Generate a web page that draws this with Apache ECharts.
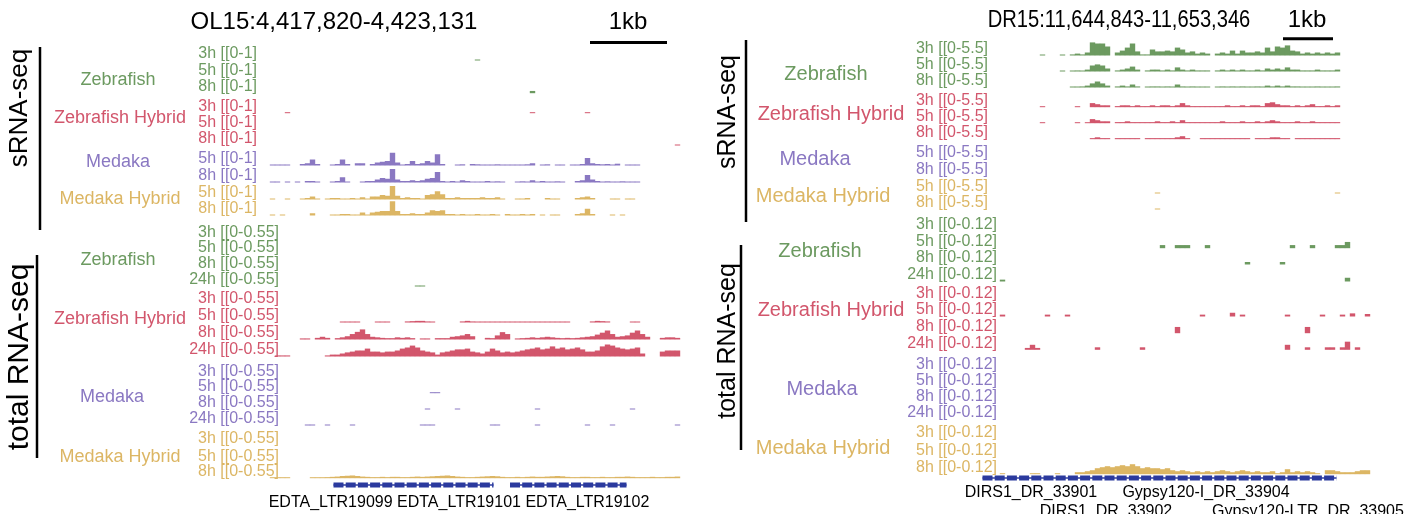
<!DOCTYPE html>
<html>
<head>
<meta charset="utf-8">
<script src="https://cdn.jsdelivr.net/npm/echarts@6/dist/echarts.min.js"></script>
<style>
  html, body { margin: 0; padding: 0; background: #fff; }
  #chart { width: 1419px; height: 514px; }
</style>
</head>
<body>
<div id="chart"></div>
<script>
// ---- titles / labels ----
const leftTitle = 'OL15:4,417,820-4,423,131';
const rightTitle = 'DR15:11,644,843-11,653,346';
const scaleLabel = '1kb';
const species = ['Zebrafish', 'Zebrafish Hybrid', 'Medaka', 'Medaka Hybrid'];
const timesSmall = [['3h', '5h', '8h'], ['3h', '5h', '8h'], ['5h', '8h'], ['5h', '8h']];
const timesTotal = [['3h', '5h', '8h', '24h'], ['3h', '5h', '8h', '24h'], ['3h', '5h', '8h', '24h'], ['3h', '5h', '8h']];
const leftRanges = ['[[0-1]', '[[0-0.55]'];
const rightRanges = ['[[0-5.5]', '[[0-0.12]'];
const leftMax = [1, 0.55];
const rightMax = [5.5, 0.12];
const leftGeneNames = ['EDTA_LTR19099 EDTA_LTR19101 EDTA_LTR19102'];
const rightGeneNames = ['DIRS1_DR_33901', 'Gypsy120-I_DR_33904', 'DIRS1_DR_33902', 'Gypsy120-LTR_DR_33905'];

// ---- left locus, 82 bins; dense arrays start at bin 0, sparse ones are [bin, value] ----
const L_s_zf3 = [[41, 0.06]];
const L_s_zf5 = [];
const L_s_zf8 = [[52, 0.15]];
const L_s_zh3 = [[3, 0.05], [52, 0.05], [63, 0.05]];
const L_s_zh5 = [];
const L_s_zh8 = [[81, 0.05]];
const L_s_md5 = [.05,.05,.05,.05,0,0,.1,.15,.4,.1, 0,0,.05,.1,.4,.1,0,.15,.15,0, .1,.2,.25,.3,.85,.2,.05,.1,.3,.1,
  .15,.3,.2,.75,.1,0,0,.05,.08,0, .1,.08,.05,.05,.05,.08,.05,.05,.05,.05, .05,.08,.15,0,.05,.08,0,.05,.05,0,
  .05,.05,.1,.5,.15,.1,.08,.1,.05,.12, 0,.05,.05,.05];
const L_s_md8 = [.05,.05,0,.05,0,.05,0,.1,.1,.05, 0,0,.05,.1,.35,.05,0,0,.05,.1, .1,.2,.3,.25,.9,.2,.1,.1,.15,.1,
  .15,.25,.3,.7,.1,.05,.1,.05,.15,.1, .05,.05,.05,.1,.05,.08,.05,0,0,.05, .08,.05,.15,.05,.1,.05,.05,.08,.05,0,
  0,.1,.15,.5,.2,.1,.05,.08,.05,.05, .08,.05,.05,.05];
const L_s_mh5 = [.05,0,0,.05,0,0,.05,.1,.2,.05, 0,.05,.1,.1,.05,.05,.1,.05,.15,.05, .2,.2,.3,.25,.9,.25,.1,.15,.1,.1,
  .05,.3,.35,.55,.35,.1,.1,.15,.1,.1, .1,.1,.15,.1,.1,.15,.05,0,0,.05, .05,.1,0,0,0,.1,.05,.05,0,0,
  0,.1,.15,.2,.1,0,0,0,.05,.05, 0,.05,.05];
const L_s_mh8 = [.05,0,.05,0,0,0,0,0,.15,0, 0,0,.05,.05,.1,.1,.05,.05,.2,.05, .2,.25,.3,.3,.95,.3,.1,.1,.15,.1,
  .1,.2,.35,.3,.35,.1,.1,.05,.1,.05, .05,.1,.05,.05,.1,.05,0,.1,.05,.05, .1,.05,.1,0,.05,0,.05,.05,0,0,
  0,.1,.15,.45,.1,0,0,0,.05,0, .05];

const L_t_zf3 = [];
const L_t_zf5 = [];
const L_t_zf8 = [];
const L_t_zf24 = [[29, 0.02], [30, 0.02]];
const L_t_zh3 = [];
const L_t_zh5 = [0,0,0,0,0,0,0,0,0,0, 0,0,0,0,.03,.03,.03,.03,0,0, 0,.03,.03,.03,0,0,0,.04,.05,.06,
  .06,.04,.03,0,0,0,0,0,.04,.06, .04,.03,.03,.03,.03,.03,.03,.03,.03,.03, .03,.03,.03,.03,.03,.03,.03,.03,.03,.03,
  0,0,0,0,.04,.06,.05,.04,0,0, 0,0,.03,.03];
const L_t_zh8 = [0,0,0,0,0,0,.04,.04,0,.06, .1,.06,0,.05,.08,.12,.2,.28,.37,.2, .1,.08,.06,.05,.05,.08,.06,.08,.05,0,
  .04,.04,0,.05,.05,.05,.1,.12,.15,.2, .12,0,0,.06,.05,.15,.27,.2,0,.04, .05,.06,.08,.06,.08,.1,.08,.06,.05,.06,
  .05,.06,.08,.1,.12,.18,.25,.33,.2,.1, .12,.15,.25,.33,.2,.1,0,0,.06,.08,.08,.06];
const L_t_zh24 = [0,.04,.04,.04,0,0,0,0,0,0, 0,.04,.07,.07,.11,.15,.18,.22,.22,.29, .18,.18,.15,.18,.18,.22,.29,.33,.4,.33,
  .22,.18,.15,.07,.15,.18,.22,.26,.26,.29, .18,.15,.11,.18,.29,.22,.15,.18,.15,.18, .22,.26,.29,.33,.26,.29,.37,.29,.33,.26,
  .29,.33,.26,.18,.18,.22,.37,.44,.4,.33, .29,.26,.29,.33,.11,0,0,0,.18,.22,.22,.22];
const L_t_md3 = [];
const L_t_md5 = [[32, 0.02], [33, 0.02]];
const L_t_md8 = [[31, 0.02], [37, 0.02], [53, 0.02], [72, 0.02]];
const L_t_md24 = [[7, .02], [8, .02], [11, .02], [16, .02], [30, .02], [31, .03], [32, .02], [44, .02], [45, .02],
  [53, .02], [63, .02], [68, .03], [81, .02]];
const L_t_mh3 = [];
const L_t_mh5 = [];
const L_t_mh8 = [.03,.03,.03,.03,0,0,0,0,.03,.03, .03,.04,.05,.06,.08,.09,.1,.08,.06,.05, .04,.04,.05,.04,.05,.05,.04,.04,.05,.06,
  .05,.06,.07,.08,.09,.1,.08,.06,.05,.04, .04,.05,.06,.07,.08,.07,.05,.04,.04,.05, .04,.05,.06,.05,.05,.06,.07,.08,.07,.05,
  .04,.04,.05,.05,.04,.04,.05,.04,.04,.05, .05,.06,.05,.04,.04,.04,.05,.04,.04,.05,.05,.06];

// ---- right locus, 74 bins ----
const R_s_zf3 = [0,0,0,0,0,0,0,0,.15,0, 0,0,.15,0,.4,.7,.4,1.1,4.8,4.4, 4.4,3.3,0,1.1,1.8,2.9,4.4,1.5,.4,.4,
  2.2,1.5,1.5,1.8,1.5,2.9,2.2,1.1,1.5,.7, 1.1,.7,0,.7,1.1,.7,1.8,.7,1.8,1.1, 1.1,1.5,1.1,2.9,1.5,3.3,2.9,3.7,1.8,1.5,
  .7,1.1,.7,1.1,.7,1.1,.7,1.1];
const R_s_zf5 = [0,0,0,0,0,0,0,0,0,0, 0,0,.15,0,.3,.4,.3,.7,2.2,2.6, 2.2,1.1,0,.4,.7,1.1,1.8,.7,0,.4,
  .7,.7,.4,.7,.4,1.5,.7,.4,.7,.4, .4,.4,0,.4,.7,.4,.7,.4,.7,.4, .4,.7,.4,1.1,.7,1.1,.7,1.5,.7,.7,
  .4,.4,.4,.7,.4,.4,.4,.7];
const R_s_zf8 = [0,0,0,0,0,0,0,0,0,0, 0,0,0,0,.3,.3,.4,.7,1.5,2.2, 1.5,.7,0,.4,.7,.4,1.1,.4,0,.3,
  .4,.4,.3,.4,.3,1.1,.4,.3,.4,.3, .3,.3,0,.3,.4,.3,.4,.3,.4,.3, .3,.4,.3,.7,.4,.7,.4,.7,.4,.4,
  .3,.3,.3,.4,.3,.3,.3,.4];
const R_s_zh3 = [0,0,0,0,0,0,0,0,.3,0, 0,0,0,0,0,.3,0,0,1.5,1.1, .7,.7,0,.4,.7,.7,.4,.7,.4,.4,
  .7,.4,.7,.7,.4,.7,1.5,.7,.4,.4, .4,.4,.4,.4,.4,.7,.4,.4,.7,.4, .7,.7,.4,1.5,1.8,1.1,.7,.7,.4,.7,
  .4,.7,1.1,.4,.4,.7,.4,.7];
const R_s_zh5 = [0,0,0,0,0,0,0,0,.2,0, 0,0,0,0,0,.2,0,.3,1.5,1.1, .7,.7,0,.4,.4,.7,.4,.4,.4,.4,
  .4,.7,.4,.4,.7,.4,1.1,.4,.4,.4, .4,.4,.4,.4,.7,.4,.4,.4,.7,.4, .4,.7,.4,.7,1.1,.7,.4,.4,.4,.7,
  .4,.4,.7,.4,.4,.4,.4,.4];
const R_s_zh8 = [0,0,0,0,0,0,0,0,0,0, 0,0,0,0,0,0,0,0,.4,.7, .4,.4,0,.4,.4,.4,.4,.4,0,.4,
  .4,.4,.4,.4,.4,.7,1.1,.4,0,0, .4,.4,.4,.4,.4,.4,.4,.4,.4,.4, 0,.4,.4,.4,.7,.7,.4,.4,0,.4,
  .4,.4,.4,.4,.4,.4,.4,.4];
const R_s_md5 = [];
const R_s_md8 = [];
const R_s_mh5 = [[31, 0.3], [67, 0.2]];
const R_s_mh8 = [[31, 0.3]];

const R_t_zf3 = [];
const R_t_zf5 = [[32, .025], [35, .025], [36, .025], [37, .025], [41, .025], [58, .025], [62, .025], [67, .025], [68, .025], [69, .05]];
const R_t_zf8 = [[49, .02], [56, .02]];
const R_t_zf24 = [[0, .015], [69, .03]];
const R_t_zh3 = [];
const R_t_zh5 = [[0, .015], [9, .015], [13, .015], [40, .015], [46, .03], [48, .015], [57, .015], [64, .015], [68, .015], [70, .025], [73, .02]];
const R_t_zh8 = [[35, .05], [61, .05]];
const R_t_zh24 = [[5, .015], [6, .04], [7, .015], [19, .02], [28, .02], [57, .04], [61, .02], [65, .02], [66, .02], [68, .02], [69, .065], [71, .02]];
const R_t_md3 = [];
const R_t_md5 = [];
const R_t_md8 = [];
const R_t_md24 = [];
const R_t_mh3 = [];
const R_t_mh5 = [];
const R_t_mh8 = [.008,0,0,0,0,0,.004,.004,0,0, 0,.004,0,0,0,.016,.016,.024,.032,.048, .056,.064,.056,.064,.072,.064,.08,.064,.048,.056,
  .048,.048,.04,.048,.032,.024,.032,.024,.016,.024, .016,.024,.016,.024,.032,.024,.016,.024,.032,.024,
  .016,.024,.016,.016,.024,.008,.016,.04,.016,.024, .016,.024,.016,.008,0,.032,.032,.024,.016,.016, .016,.024,.032,.032];

// gene blocks, in bins
const leftGenes = [[12.7, 44.7], [48, 71.3]];
const rightGenes = [[-3.5, 67.3]];

const leftSmall = [L_s_zf3, L_s_zf5, L_s_zf8, L_s_zh3, L_s_zh5, L_s_zh8, L_s_md5, L_s_md8, L_s_mh5, L_s_mh8];
const leftTotal = [L_t_zf3, L_t_zf5, L_t_zf8, L_t_zf24, L_t_zh3, L_t_zh5, L_t_zh8, L_t_zh24,
  L_t_md3, L_t_md5, L_t_md8, L_t_md24, L_t_mh3, L_t_mh5, L_t_mh8];
const rightSmall = [R_s_zf3, R_s_zf5, R_s_zf8, R_s_zh3, R_s_zh5, R_s_zh8, R_s_md5, R_s_md8, R_s_mh5, R_s_mh8];
const rightTotal = [R_t_zf3, R_t_zf5, R_t_zf8, R_t_zf24, R_t_zh3, R_t_zh5, R_t_zh8, R_t_zh24,
  R_t_md3, R_t_md5, R_t_md8, R_t_md24, R_t_mh3, R_t_mh5, R_t_mh8];

// ---- layout ----
const colors = ['#6c9a60', '#d2566c', '#8a78c2', '#dcb664'];
const FONT = '"Liberation Sans", Arial, Helvetica, sans-serif';

const panels = [
  {
    title: leftTitle, titleX: 334, titleY: 22, titleScale: 1, kbX: 628, kbY: 22, barX: [590, 667], barY: 42.5,
    gridLeft: 270, gridWidth: 410, xMin: 0, xMax: 82,
    ranges: leftRanges, maxes: leftMax, tracks: [leftSmall, leftTotal],
    labelRight: [257, 279],
    rowsY: [[54, 70.7, 86.7, 106.7, 123, 139, 159, 176, 193, 209],
      [232.7, 248, 263.5, 280, 299, 316, 333, 350, 371.7, 386.7, 403, 419, 439, 456.7, 471.7]],
    groupPos: [[[118, 80], [120, 118], [118, 162], [120, 199]], [[118, 260], [120, 319], [112, 397], [120, 457]]],
    side: [{ x: 20, y: 108, size: 26, text: 'sRNA-seq', line: [40, 47, 230] },
      { x: 20, y: 357, size: 30, text: 'total RNA-seq', line: [37, 255, 458] }],
    groupFont: 18,
    genes: leftGenes, geneY: 485,
    geneNames: leftGeneNames, geneNamePos: [[459, 503]]
  },
  {
    title: rightTitle, titleX: 1119, titleY: 20, titleScale: 0.84, kbX: 1307, kbY: 20, barX: [1283, 1333], barY: 38.7,
    gridLeft: 980, gridWidth: 390, xMin: -4, xMax: 74,
    ranges: rightRanges, maxes: rightMax, tracks: [rightSmall, rightTotal],
    labelRight: [988, 997],
    rowsY: [[49, 65, 81, 100.7, 116.7, 132.7, 153, 170, 187, 203],
      [225, 241.7, 258, 275, 294, 310, 326.7, 343.3, 365, 381, 396.7, 413, 433, 451, 467.7]],
    groupPos: [[[826, 74], [831, 114], [815, 159], [823, 196]], [[820, 251], [831, 310], [822, 389], [823, 448]]],
    side: [{ x: 728, y: 112, size: 25, text: 'sRNA-seq', line: [746, 40, 222] },
      { x: 728, y: 341, size: 25, text: 'total RNA-seq', line: [741, 245, 450] }],
    groupFont: 20,
    genes: rightGenes, geneY: 478,
    geneNames: rightGeneNames, geneNamePos: [[1031, 493], [1206, 493], [1106, 512], [1308, 512]]
  }
];

function toPoints(arr) {
  if (arr.length && Array.isArray(arr[0])) {
    return arr.map(p => [p[0] + 0.5, p[1]]);
  }
  const out = [];
  arr.forEach((v, i) => { if (v > 0) out.push([i + 0.5, v]); });
  return out;
}

const grid = [], xAxis = [], yAxis = [], series = [], graphic = [];

function text(str, x, y, size, color, align, extra) {
  return Object.assign({
    type: 'text', silent: true,
    style: {
      text: str, x: x, y: y, fill: color,
      font: size + 'px ' + FONT,
      align: align || 'center', verticalAlign: 'middle',
      textAlign: align || 'center', textVerticalAlign: 'middle'
    }
  }, extra || {});
}

panels.forEach(p => {
  // title, squeezed sideways on the right panel
  graphic.push({
    type: 'text', silent: true, x: p.titleX, y: p.titleY, scaleX: p.titleScale,
    style: { text: p.title, x: 0, y: 0, fill: '#000', font: '24px ' + FONT,
      align: 'center', verticalAlign: 'middle', textAlign: 'center', textVerticalAlign: 'middle' }
  });
  graphic.push(text(scaleLabel, p.kbX, p.kbY, 24, '#000'));
  graphic.push({ type: 'line', silent: true, shape: { x1: p.barX[0], y1: p.barY, x2: p.barX[1], y2: p.barY },
    style: { stroke: '#000', lineWidth: 3 } });

  p.side.forEach(s => {
    graphic.push({
      type: 'text', silent: true, x: s.x, y: s.y, rotation: Math.PI / 2,
      style: { text: s.text, x: 0, y: 0, fill: '#000', font: s.size + 'px ' + FONT,
        align: 'center', verticalAlign: 'middle', textAlign: 'center', textVerticalAlign: 'middle' }
    });
    graphic.push({ type: 'line', silent: true, shape: { x1: s.line[0], y1: s.line[1], x2: s.line[0], y2: s.line[2] },
      style: { stroke: '#000', lineWidth: 2.5 } });
  });

  [timesSmall, timesTotal].forEach((times, section) => {
    let row = 0;
    times.forEach((ts, g) => {
      const gp = p.groupPos[section][g];
      graphic.push(text(species[g], gp[0], gp[1], p.groupFont, colors[g]));
      ts.forEach(t => {
        const y = p.rowsY[section][row];
        graphic.push(text(t + ' ' + p.ranges[section], p.labelRight[section], y, 16, colors[g], 'right'));
        const idx = grid.length;
        const base = y + 6.5;
        grid.push({ left: p.gridLeft, width: p.gridWidth, top: base - 15, height: 15 });
        xAxis.push({ type: 'value', gridIndex: idx, min: p.xMin, max: p.xMax, show: false });
        yAxis.push({ type: 'value', gridIndex: idx, min: 0, max: p.maxes[section], show: false });
        series.push({
          type: 'bar', xAxisIndex: idx, yAxisIndex: idx, barWidth: 5.4, barMinHeight: 1,
          itemStyle: { color: colors[g] }, silent: true, animation: false,
          data: toPoints(p.tracks[section][row])
        });
        row++;
      });
    });
  });

  // gene track
  const gi = grid.length;
  grid.push({ left: p.gridLeft, width: p.gridWidth, top: p.geneY - 5, height: 10 });
  xAxis.push({ type: 'value', gridIndex: gi, min: p.xMin, max: p.xMax, show: false });
  yAxis.push({ type: 'value', gridIndex: gi, min: -1, max: 1, show: false });
  p.genes.forEach(gn => {
    series.push({ type: 'line', xAxisIndex: gi, yAxisIndex: gi, symbol: 'none', silent: true, animation: false,
      lineStyle: { color: '#2b3a9e', width: 1.5 }, data: [[gn[0], 0], [gn[1], 0]] });
    series.push({ type: 'line', xAxisIndex: gi, yAxisIndex: gi, symbol: 'none', silent: true, animation: false,
      lineStyle: { color: '#2b3a9e', width: 5, type: [10, 2.2], cap: 'butt' }, data: [[gn[0], 0], [gn[1], 0]] });
  });
  p.geneNames.forEach((n, i) => {
    graphic.push(text(n, p.geneNamePos[i][0], p.geneNamePos[i][1], 16, '#000'));
  });
});

const chart = echarts.init(document.getElementById('chart'), null, { renderer: 'canvas' });
chart.setOption({
  animation: false,
  backgroundColor: '#fff',
  grid, xAxis, yAxis, series, graphic
});
</script>
</body>
</html>
